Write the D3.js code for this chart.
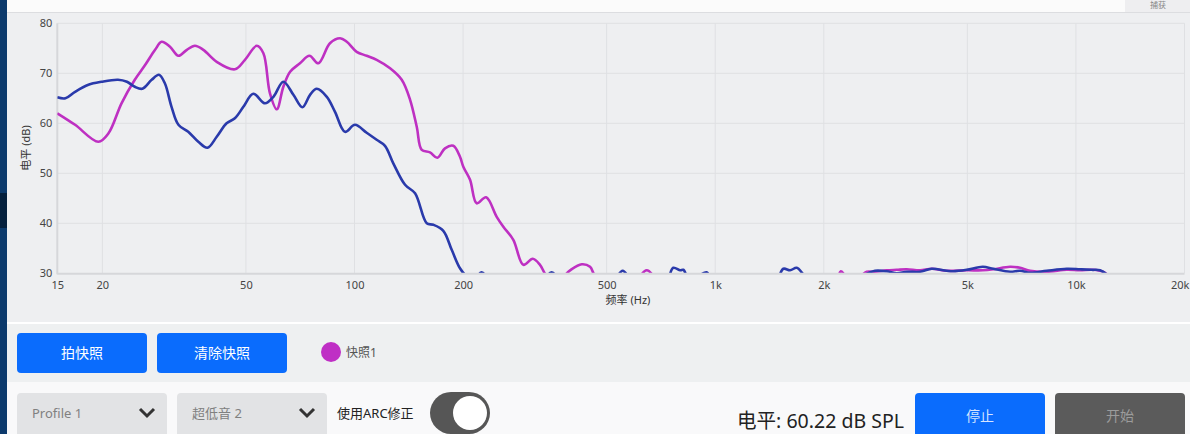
<!DOCTYPE html>
<html><head><meta charset="utf-8">
<script src="https://cdn.jsdelivr.net/npm/d3@7"></script>
<style>
html,body{margin:0;padding:0;background:#f9f9fa;overflow:hidden}
svg{display:block}
text{font-family:"Noto Sans","Noto Sans CJK SC",sans-serif}
</style></head>
<body>
<svg id="c" width="1190" height="434"></svg>
<script>
// ---- data ----
const snapshotFreq = [15,16.8,19.5,20.8,22.6,24.6,26.3,28.0,29.2,30.8,32.5,34.3,36.1,38.1,41.5,46.6,49.7,53.6,55.9,58.3,60.9,63.5,66.3,70.6,75.0,79.4,85.5,91.2,95.2,101.4,108.1,115.2,125.5,135.2,142.6,148.8,153.6,161.9,169.7,178.2,187.9,196.1,200.3,209.1,218.2,231.6,247.9,258.6,275.6,293.8,312,326.8,341,366.6,396,426.6,449.8,464.4,495,599,646,703,2150,2229,2306,2521,2631,2774,2990,3187,3396,3698,3984,4385,4980,5518,5904,6567,7000,7463,8301,9430,10266,11064,11666,12044,12500];
const snapshotDb = [62,59.7,56.3,58,64,68.7,71.7,74.7,76.3,75.3,73.5,74.7,75.5,74.7,72.3,70.8,72.7,75.5,74,66,62.8,67.3,70.3,72,73.5,72,76,77,76.3,74.3,73.5,72.7,71,68.7,64.7,59.3,54.7,54.2,53.1,55,55.5,53.3,51.3,48.7,44,45.2,41.3,39.3,36.7,31.7,32.9,31.7,29.5,28.5,30.6,31.8,31.3,29.5,28.5,28.5,30.6,28.5,28.5,30.4,29.5,29.5,30.3,30.3,30.6,30.7,30.8,30.6,30.9,30.5,30.6,30.6,30.8,31.3,31.1,30.5,30.3,30.7,30.6,30.7,30.5,30.1,29];
const liveFreq = [15,15.8,16.8,18.3,19.9,22.1,23.4,24.6,25.8,27.4,28.7,29.8,31.1,32.5,34.6,36.9,39.1,41.5,44.2,46.6,49.2,52.4,56.5,59.6,63.5,67.7,71.7,75.3,78.6,83.8,88.3,94.1,100.3,108.1,115.2,121.5,128.1,138.1,147.2,158.6,165.4,176.3,186.0,196.1,204.7,215,225,240,330,352,375,520,554,590,730,765,800,816,850,947,980,1465,1545,1613,1683,1755,1830,2500,2631,2774,2990,3187,3396,3698,3984,4385,4565,4980,5518,5904,6567,7000,7463,8301,9430,10266,11064,11666,12300,12800];
const liveDb = [65.2,65,66.3,67.7,68.3,68.7,68.3,67.3,66.9,68.7,69.7,68,63.3,59.7,58.3,56.3,55.1,57.3,60,61,63.3,65.9,64,65.3,68.3,65.7,63.2,65.7,66.9,65.3,62.3,58.3,59.7,58.1,56.7,55.5,52,47.7,46,40,39.7,38.5,34.7,31,29.4,28.8,30.2,28.5,28.5,30.2,28.5,28.5,30.5,28.5,28.5,31.1,30.6,30.7,28.6,30.2,28.5,28.5,30.9,30.6,31.1,29.8,28.5,28.5,29.9,30.5,30.4,30.0,30.3,30.3,30.9,30.5,30.4,30.7,31.3,30.9,30.3,30.5,30.1,30.5,30.9,30.8,30.7,30.6,29.5,28];
const xTickValues = [15,20,50,100,200,500,1000,2000,5000,10000,20000];
const xTickLabels = ["15","20","50","100","200","500","1k","2k","5k","10k","20k"];
const yTickValues = [30,40,50,60,70,80];

const svg = d3.select("#c");

// ---- page background panels ----
svg.append("rect").attr("x",0).attr("y",0).attr("width",1190).attr("height",434).attr("fill","#f9f9fa");
svg.append("rect").attr("x",0).attr("y",0).attr("width",1190).attr("height",12).attr("fill","#fbfbfb");
svg.append("rect").attr("x",1125).attr("y",0).attr("width",65).attr("height",12).attr("fill","#eeeef0");
svg.append("text").attr("x",1158).attr("y",8).attr("text-anchor","middle").attr("font-size",8).attr("fill","#888").text("捕获");
svg.append("rect").attr("x",0).attr("y",12).attr("width",1190).attr("height",310).attr("fill","#eeeff1");
svg.append("line").attr("x1",0).attr("x2",1190).attr("y1",12.5).attr("y2",12.5).attr("stroke","#dcdde0");
svg.append("rect").attr("x",0).attr("y",322).attr("width",1190).attr("height",2).attr("fill","#ffffff");
svg.append("rect").attr("x",0).attr("y",324).attr("width",1190).attr("height",58).attr("fill","#eef0f1");
// left dark strip
svg.append("rect").attr("x",0).attr("y",0).attr("width",7).attr("height",434).attr("fill","#0c3a6c");
svg.append("rect").attr("x",0).attr("y",193).attr("width",7).attr("height",35).attr("fill","#05203d");

// ---- chart ----
const x = d3.scaleLog().domain([15,20000]).range([57.3,1184.5]);
const y = d3.scaleLinear().domain([30,80]).range([273.3,23.3]);

const g = svg.append("g");
// grid
g.selectAll(".vg").data(xTickValues.slice(1)).join("line")
  .attr("x1",d=>x(d)).attr("x2",d=>x(d)).attr("y1",y(80)).attr("y2",y(30))
  .attr("stroke","#dfe0e3").attr("stroke-width",1);
g.selectAll(".hg").data(yTickValues.slice(1)).join("line")
  .attr("x1",x(15)).attr("x2",x(20000)).attr("y1",d=>y(d)).attr("y2",d=>y(d))
  .attr("stroke","#dfe0e3").attr("stroke-width",1);

// axes
const xAxis = d3.axisBottom(x).tickValues(xTickValues).tickFormat((d,i)=>xTickLabels[i]).tickSize(0).tickPadding(6);
const yAxis = d3.axisLeft(y).tickValues(yTickValues).tickSize(0).tickPadding(5);
const gx = g.append("g").attr("transform",`translate(0,${y(30)})`).call(xAxis);
const gy = g.append("g").attr("transform",`translate(${x(15)},0)`).call(yAxis);
[gx,gy].forEach(a=>{
  a.select(".domain").remove();
  a.selectAll("text").attr("font-size",11).attr("fill","#444").attr("font-family","'Noto Sans',sans-serif");
});
gx.selectAll("text").attr("dy","0.9em");
// keep last label inside the window
gx.selectAll(".tick").filter(d=>d===20000).select("text").attr("text-anchor","end").attr("dx",4.5);
g.append("line").attr("x1",x(15)).attr("x2",x(15)).attr("y1",y(80)).attr("y2",y(30)+1).attr("stroke","#d6d7da").attr("stroke-width",2);

// clip
svg.append("clipPath").attr("id","clip").append("rect")
  .attr("x",x(15)).attr("y",y(80)-5).attr("width",x(20000)-x(15)).attr("height",y(30)-y(80)+5);

const line = d3.line().x(d=>x(d[0])).y(d=>y(d[1])).curve(d3.curveCatmullRom.alpha(0.5));
const snap = snapshotFreq.map((f,i)=>[f,snapshotDb[i]]);
const live = liveFreq.map((f,i)=>[f,liveDb[i]]);
const lines = g.append("g").attr("clip-path","url(#clip)");
lines.append("path").attr("d",line(snap)).attr("fill","none").attr("stroke","#be30c2").attr("stroke-width",2.6).attr("stroke-linejoin","round");
lines.append("path").attr("d",line(live)).attr("fill","none").attr("stroke","#2a3aab").attr("stroke-width",2.6).attr("stroke-linejoin","round");

g.append("line").attr("x1",x(15)).attr("x2",x(20000)).attr("y1",y(30)+0.5).attr("y2",y(30)+0.5).attr("stroke","#d6d7da").attr("stroke-width",2);

// axis titles
svg.append("text").attr("x",628).attr("y",304).attr("text-anchor","middle").attr("font-size",11).attr("fill","#333").text("频率 (Hz)");
svg.append("text").attr("transform","translate(30,148) rotate(-90)").attr("text-anchor","middle").attr("font-size",11).attr("fill","#333").text("电平 (dB)");

// ---- controls ----
function button(x0,y0,w,h,fill,label,color,size){
  svg.append("rect").attr("x",x0).attr("y",y0).attr("width",w).attr("height",h).attr("rx",4).attr("fill",fill);
  svg.append("text").attr("x",x0+w/2).attr("y",y0+h/2+5).attr("text-anchor","middle").attr("font-size",size).attr("fill",color)
    .attr("font-family","'Noto Sans CJK SC',sans-serif").text(label);
}
button(17,333,130,40,"#0a6cfd","拍快照","#ffffff",14);
button(157,333,130,40,"#0a6cfd","清除快照","#ffffff",14);
svg.append("circle").attr("cx",331).attr("cy",352).attr("r",10).attr("fill","#bf2fc5");
svg.append("text").attr("x",346).attr("y",357).attr("font-size",12).attr("fill","#555").attr("font-family","'Noto Sans CJK SC',sans-serif").text("快照1");

function select(x0,label){
  svg.append("rect").attr("x",x0).attr("y",393).attr("width",150).attr("height",45).attr("rx",4).attr("fill","#e2e3e5");
  svg.append("text").attr("x",x0+15).attr("y",418).attr("font-size",13).attr("fill","#808080").attr("font-family","Roboto,'Noto Sans CJK SC',sans-serif").text(label);
  svg.append("path").attr("d",`M${x0+123},${409} L${x0+130},${416} L${x0+137},${409}`).attr("fill","none").attr("stroke","#333").attr("stroke-width",3);
}
select(17,"Profile 1");
select(177,"超低音 2");
svg.append("text").attr("x",337).attr("y",418).attr("font-size",13).attr("fill","#222").attr("font-family","Roboto,'Noto Sans CJK SC',sans-serif").text("使用ARC修正");
svg.append("rect").attr("x",430).attr("y",392).attr("width",60).attr("height",42).attr("rx",21).attr("fill","#565656");
svg.append("circle").attr("cx",470).attr("cy",413).attr("r",17).attr("fill","#ffffff");

svg.append("text").attr("x",904).attr("y",428).attr("text-anchor","end").attr("font-size",20).attr("fill","#222")
  .attr("font-family","Roboto,'Noto Sans CJK SC',sans-serif").attr("textLength",167).attr("lengthAdjust","spacingAndGlyphs").text("电平: 60.22 dB SPL");
button(915,393,130,45,"#0a6cfd","停止","#d6e5ff",14);
button(1055,393,130,45,"#5b5b5b","开始","#9c9c9c",14);
</script>
</body></html>
